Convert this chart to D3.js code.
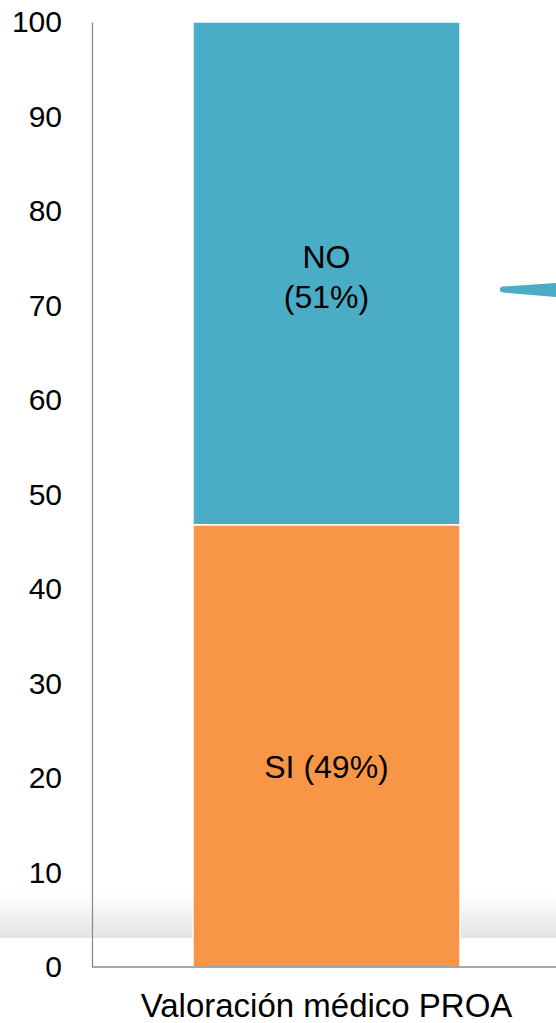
<!DOCTYPE html>
<html>
<head>
<meta charset="utf-8">
<script src="https://cdn.jsdelivr.net/npm/d3@7"></script>
<style>
  body { margin: 0; background: #fff; }
  text { font-family: "Liberation Sans", Arial, sans-serif; fill: #000; }
</style>
</head>
<body>
<div id="chart"></div>
<script>
const svgWidth = 556
const svgHeight = 1023

const categories = ["Valoración médico PROA"]
const seriesNames = ["SI", "NO"]
const siValues = [46.8]
const noValues = [53.2]
const segmentLabels = [["SI (49%)"], ["NO", "(51%)"]]
// where each label block is centred, in axis units
const labelAt = [21.2, 73]
const yTicks = [0, 10, 20, 30, 40, 50, 60, 70, 80, 90, 100]
const colors = ["#f79646", "#4bacc6"]

let margin = { top: 22, right: 0, bottom: 56, left: 92 }
let height = svgHeight - margin.top - margin.bottom

let svg = d3.select("#chart")
  .append("svg")
  .attr("width", svgWidth)
  .attr("height", svgHeight)

// soft grey band near the bottom
let defs = svg.append("defs")
let grad = defs.append("linearGradient")
  .attr("id", "band").attr("x1", 0).attr("x2", 0).attr("y1", 0).attr("y2", 1)
grad.append("stop").attr("offset", "0%").attr("stop-color", "#ffffff")
grad.append("stop").attr("offset", "100%").attr("stop-color", "#e4e4e4")
svg.append("rect")
  .attr("x", 0).attr("y", 893)
  .attr("width", svgWidth).attr("height", 45)
  .attr("fill", "url(#band)")

let chartGroup = svg.append("g")
  .attr("transform", `translate(${margin.left}, ${margin.top})`)

let yScale = d3.scaleLinear().domain([0, 100]).range([height, 0])
// the single band sits at x 193..460 of the picture
let xScale = d3.scaleBand()
  .domain(categories)
  .range([193 - margin.left, 460 - margin.left])

let stackData = categories.map((c, i) => ({ cat: c, SI: siValues[i], NO: noValues[i] }))
let stacked = d3.stack().keys(seriesNames)(stackData)

stacked.forEach((layer, li) => {
  chartGroup.selectAll(null)
    .data(layer)
    .enter()
    .append("rect")
    .attr("x", d => xScale(d.data.cat))
    .attr("width", xScale.bandwidth())
    .attr("y", d => yScale(d[1]))
    .attr("height", d => yScale(d[0]) - yScale(d[1]))
    .attr("fill", colors[li])
    .attr("stroke", "#ffffff")
    .attr("stroke-width", 1.5)
})

// segment labels
let cx = xScale(categories[0]) + xScale.bandwidth() / 2
segmentLabels.forEach((lines, li) => {
  let centre = yScale(labelAt[li])
  let t = chartGroup.append("text")
    .attr("text-anchor", "middle")
    .style("font-size", "32px")
  lines.forEach((ln, k) => {
    t.append("tspan")
      .attr("x", cx)
      .attr("y", centre - (lines.length - 1) * 20 + k * 40 + 11)
      .text(ln)
  })
})

// axes
let leftAxis = d3.axisLeft(yScale).tickValues(yTicks).tickSize(0).tickPadding(30)
let yAxis = chartGroup.append("g").call(leftAxis)
yAxis.select(".domain").attr("stroke", "#8c8c8c").attr("stroke-width", 1.3)
yAxis.selectAll("text")
  .style("font-size", "30px")
  .attr("x", -30)

chartGroup.append("line")
  .attr("x1", 0).attr("x2", svgWidth - margin.left)
  .attr("y1", height).attr("y2", height)
  .attr("stroke", "#8c8c8c").attr("stroke-width", 1.3)

chartGroup.append("text")
  .attr("x", cx)
  .attr("y", height + 50)
  .attr("text-anchor", "middle")
  .style("font-size", "33px")
  .text(categories[0])

// teal arrow tail entering from the right edge
svg.append("path")
  .attr("d", "M503,286.5 L556,283 L556,297 L503,292.5 A3,3 0 0 1 503,286.5 Z")
  .attr("fill", colors[1])
</script>
</body>
</html>
